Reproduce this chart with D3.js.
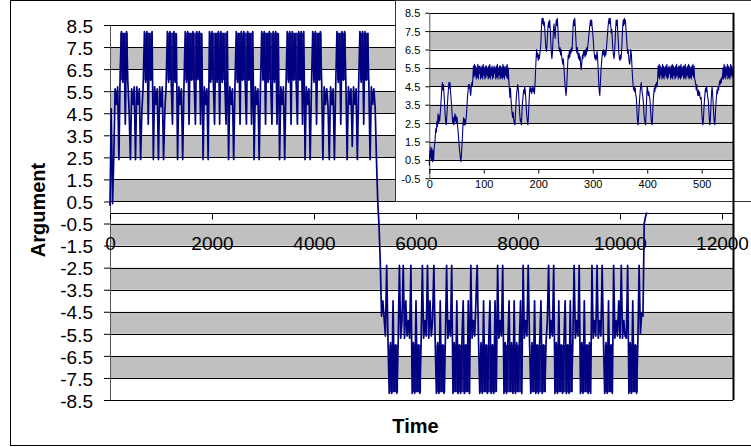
<!DOCTYPE html>
<html>
<head>
<meta charset="utf-8">
<script src="https://cdn.jsdelivr.net/npm/d3@7"></script>
<style>
  html, body { margin: 0; padding: 0; background: #fff; }
  svg { display: block; font-family: "Liberation Sans", Arial, sans-serif; }
</style>
</head>
<body>
<div id="chart"></div>
<script>
// main trace: one reading every 25 time units
const mainStep = 25;
const argPositive = [
  0.3, 4.7, 0.4, 2.6, 5.6, 4.9, 5.7, 2.4,
  6.5, 8.2, 5.9, 8.1, 4.0, 8.2, 5.9,
  4.6, 2.4, 5.6, 4.9, 5.7, 2.4, 5.7, 4.9, 5.6, 2.4, 4.6, 5.7,
  8.2, 5.9, 8.2, 4.0, 8.1, 6.0, 8.2,
  2.4, 5.7, 4.9, 5.6, 2.4, 5.7, 4.8, 5.7, 2.4, 4.6, 5.7,
  8.2, 5.9, 8.2, 6.0, 4.0, 8.2, 5.9, 8.1,
  2.4, 5.7, 4.9, 5.6, 2.4, 5.7,
  8.2, 5.9, 8.2, 4.0, 8.1, 6.0, 8.2, 5.9, 4.0, 8.2, 6.1, 8.2, 4.0, 8.1,
  2.4, 5.7, 4.9, 5.6, 2.4,
  8.2, 5.9, 8.2, 6.0, 4.0, 8.1, 5.9, 8.2, 4.0, 8.2, 5.9, 8.1, 6.0, 4.0, 8.2,
  2.4, 5.7, 4.9, 5.6, 2.4, 5.7,
  8.2, 5.9, 8.1, 4.0, 8.2, 6.0, 8.2, 5.9, 4.0, 8.2, 6.0, 8.1, 4.0, 8.2,
  2.4, 5.7, 4.9, 5.6, 2.4, 5.7,
  8.2, 6.0, 8.2, 4.0, 8.1, 5.9, 8.2, 6.0, 4.0, 8.2, 5.9, 8.2, 4.0, 8.1,
  2.4, 5.7, 4.9, 5.7, 2.4, 5.6,
  8.2, 5.9, 8.2, 4.0, 8.2, 6.0, 8.1, 5.9, 4.0, 8.2, 6.0, 8.2, 4.0, 8.2,
  2.4, 5.7, 4.9, 5.6, 2.4, 5.7,
  8.2, 5.9, 8.2, 4.0, 8.1, 6.0, 8.2, 5.9,
  2.4, 5.7, 4.9, 5.6, 4.8, 2.4, 5.7, 4.9, 5.6, 2.4, 5.7,
  8.2, 5.9, 8.1, 4.0, 8.2, 6.0, 8.2, 5.9,
  2.4, 5.7, 4.9, 5.6, 3.0, 5.7, 4.9, 5.6, 2.4, 5.7,
  8.2, 5.9, 8.2, 4.0, 8.2, 6.0, 8.1, 5.9,
  2.4, 5.7, 4.9, 5.6, 4.7, 2.4, 0.5, -0.6
];
const argNegative = [
  -2.3, -4.7, -4.0, -4.8, -5.6, -2.4, -5.7,
  -8.2, -5.9, -8.2, -4.0, -8.1, -6.0, -8.2, -5.9,
  -2.4, -5.7, -4.9, -2.4, -5.7, -4.0, -5.6, -4.9, -5.7, -2.4,
  -8.2, -5.9, -8.2, -4.0, -8.1, -6.0, -8.2, -5.9,
  -2.4, -5.7, -4.9, -5.6, -2.4, -5.7, -4.0, -5.6, -4.9, -2.4, -5.7,
  -8.2, -5.9, -8.2, -4.0, -8.1, -6.0, -8.2, -5.9,
  -2.4, -5.7, -4.9, -5.6, -2.4,
  -8.2, -5.9, -8.1, -4.0, -8.2, -6.0, -8.2, -5.9, -4.0, -8.2, -6.0, -8.1, -4.0, -8.2,
  -2.4, -5.7, -4.9, -5.6, -4.0, -2.4, -5.7,
  -8.2, -5.9, -8.2, -4.0, -8.1, -6.0, -8.2, -5.9, -4.0, -8.2, -6.0, -8.2, -4.0, -8.1,
  -2.4, -5.7, -4.9, -5.6, -2.4,
  -8.2, -5.9, -8.2, -6.0, -4.0, -8.1, -5.9, -8.2, -4.0, -8.2, -5.9, -8.1, -6.0, -4.0, -8.2,
  -2.4, -5.7, -4.9, -5.6, -2.4, -5.7,
  -8.2, -5.9, -8.1, -4.0, -8.2, -6.0, -8.2, -5.9, -4.0, -8.2, -6.0, -8.1, -5.9,
  -4.9, -2.4, -5.7, -4.9, -5.6, -2.4,
  -8.2, -5.9, -8.2, -4.0, -8.1, -6.0, -8.2, -5.9, -4.0, -8.2, -6.0, -8.2, -4.0, -8.1, -5.9,
  -2.4, -5.7, -4.9, -5.6, -2.4,
  -8.2, -5.9, -8.2, -4.0, -8.1, -6.0, -8.2, -5.9, -8.2,
  -2.4, -5.7, -4.9, -5.6, -2.4, -5.7, -4.9, -5.6, -2.4, -5.7,
  -8.2, -5.9, -8.2, -4.0, -8.1, -6.0, -8.2,
  -2.4, -5.7, -4.9, -5.6, -4.0, -5.7, -2.4, -5.7, -4.9, -5.6, -5.7, -2.4,
  -8.2, -5.9, -8.2, -4.0, -8.1, -6.0, -8.2, -5.9,
  -2.4, -5.5, -4.6, -4.7, -0.5, -0.2, 0.0
];
const mainArg = argPositive.concat(argNegative);

// time spans where the trace oscillates too fast to resolve (dense blocks)
const burstSpansPos = [[200,350],[675,825],[1125,1300],[1475,1800],[1950,2300],[2475,2800],[2975,3300],[3475,3800],[3975,4150],[4450,4625],[4900,5075]];
const burstSpansNeg = [[5475,5650],[5925,6100],[6400,6575],[6725,7050],[7250,7575],[7725,8075],[8250,8550],[8725,9075],[9225,9425],[9700,9850],[10175,10350]];
const burstLevelsPos = [6.0, 8.15];
const burstLevelsNeg = [-8.15, -6.0];

const timeTicks = [0, 2000, 4000, 6000, 8000, 10000, 12000];
const argTicks = [8.5, 7.5, 6.5, 5.5, 4.5, 3.5, 2.5, 1.5, 0.5, -0.5, -1.5, -2.5, -3.5, -4.5, -5.5, -6.5, -7.5, -8.5];

// zoomed view of the first ~560 time units: [time, argument]
const insetSeries = [
  [0,0.2],[1,1.0],[2,0.6],[3,1.2],[4,0.5],[5,1.1],[6,0.4],[7,1.0],[8,0.5],[9,1.2],[10,1.4],[11,1.8],[12,2.2],[13,2.0],[14,2.6],[15,2.3],[16,3.0],[17,2.5],[18,2.9],[19,2.6],
  [20,3.0],[21,3.4],[22,3.9],[23,4.4],[24,4.7],[25,4.3],[26,4.6],[27,4.1],[28,3.6],[29,3.0],[30,2.6],[31,2.4],[32,2.8],[33,3.3],[34,3.9],[35,4.3],[36,4.7],[37,4.4],[38,4.7],[39,4.2],
  [40,3.8],[41,3.4],[42,2.9],[43,2.5],[44,2.8],[45,2.4],[46,2.7],[47,3.0],[48,2.6],[49,2.9],[50,2.5],[51,2.8],[52,2.3],[53,2.0],[54,1.6],[55,1.2],[56,0.9],[57,0.6],[58,0.4],[59,0.8],
  [60,1.3],[61,1.9],[62,2.5],[63,2.8],[64,2.4],[65,2.7],[66,2.4],[67,2.6],[68,2.9],[69,3.3],[70,3.9],[71,4.2],[72,4.6],[73,4.4],[74,4.6],[75,4.2],[76,4.0],[77,4.4],[78,4.7],[79,4.5],[80,5.0],
  [81,5.6],[82,5.0],[83,5.7],[84,5.1],[85,5.6],[86,4.9],[87,5.5],[88,5.0],[89,5.7],[90,4.9],[91,5.6],[92,5.2],[93,5.6],[94,4.9],[95,5.5],[96,5.0],[97,5.6],[98,4.9],[99,5.7],[100,5.1],
  [101,5.5],[102,4.9],[103,5.6],[104,5.0],[105,5.6],[106,5.1],[107,5.5],[108,4.9],[109,5.6],[110,5.0],[111,5.7],[112,4.9],[113,5.5],[114,5.1],[115,5.6],[116,4.9],[117,5.5],[118,5.0],[119,5.6],[120,5.2],
  [121,5.5],[122,4.9],[123,5.6],[124,5.0],[125,5.7],[126,4.9],[127,5.5],[128,5.1],[129,5.6],[130,4.9],[131,5.6],[132,5.0],[133,5.5],[134,4.9],[135,5.7],[136,5.0],[137,5.6],[138,4.9],[139,5.5],[140,5.1],
  [141,5.6],[142,5.0],[143,5.7],[144,4.9],[145,5.5],
  [146,4.8],[147,4.3],[148,3.9],[149,4.4],[150,3.8],[151,3.4],[152,3.0],[153,2.8],[154,3.1],[155,2.7],[156,2.5],[157,2.4],[158,2.9],[159,3.5],[160,4.0],[161,4.3],[162,4.6],[163,4.5],[164,4.1],[165,3.5],
  [166,3.0],[167,2.6],[168,2.7],[169,2.4],[170,3.0],[171,3.6],[172,3.9],[173,4.3],[174,4.1],[175,4.5],[176,4.3],[177,3.9],[178,3.3],[179,2.9],[180,2.6],[181,2.4],[182,2.9],[183,3.6],[184,4.2],[185,4.5],
  [186,4.2],[187,4.4],[188,4.1],[189,4.3],[190,4.5],[191,4.2],[192,4.4],[193,4.1],[194,4.6],[195,5.3],[196,6.0],[197,6.5],[198,6.1],[199,6.3],[200,5.9],[201,6.2],[202,6.0],[203,6.3],[204,6.5],[205,7.0],
  [206,7.8],[207,8.2],[208,7.9],[209,8.2],[210,7.8],[211,8.0],[212,7.6],[213,7.0],[214,6.6],[215,6.4],[216,6.7],[217,7.3],[218,7.8],[219,8.0],[220,7.7],[221,8.1],[222,7.6],[223,6.9],[224,6.3],[225,6.0],
  [226,6.3],[227,7.0],[228,7.6],[229,7.9],[230,7.4],[231,7.1],[232,7.7],[233,8.1],[234,7.8],[235,8.2],[236,7.7],[237,7.0],[238,6.6],[239,6.4],[240,6.6],[241,6.2],[242,6.5],[243,6.1],[244,5.9],[245,5.7],
  [246,6.0],[247,5.6],[248,5.1],[249,4.6],[250,4.3],[251,4.0],[252,4.4],[253,5.0],[254,5.7],[255,6.2],[256,6.0],[257,6.4],[258,6.1],[259,6.5],[260,6.3],[261,6.6],[262,6.4],[263,7.1],[264,7.8],[265,8.1],
  [266,7.8],[267,8.2],[268,7.7],[269,7.1],[270,6.5],[271,6.3],[272,6.6],[273,6.2],[274,6.0],[275,6.3],[276,5.9],[277,6.1],[278,5.6],[279,5.4],[280,5.8],[281,6.2],[282,6.0],[283,6.4],[284,6.2],[285,6.4],
  [286,6.1],[287,6.5],[288,6.2],[289,6.6],[290,6.4],[291,6.7],[292,7.0],[293,7.3],[294,7.6],[295,7.9],[296,8.1],[297,7.8],[298,8.1],[299,7.7],[300,7.4],[301,7.0],[302,6.5],[303,6.2],[304,6.0],[305,6.2],
  [306,5.9],[307,6.1],[308,6.4],[309,6.0],[310,5.4],[311,4.7],[312,4.2],[313,4.0],[314,4.6],[315,5.3],[316,5.7],[317,6.1],[318,6.4],[319,6.2],[320,6.5],[321,6.3],[322,6.1],[323,6.4],[324,6.2],[325,6.5],
  [326,6.9],[327,7.3],[328,7.7],[329,8.0],[330,8.2],[331,7.9],[332,8.2],[333,7.8],[334,7.4],[335,7.6],[336,7.0],[337,6.5],[338,6.2],[339,6.0],[340,6.3],[341,6.9],[342,7.6],[343,8.1],[344,7.8],[345,8.1],
  [346,7.4],[347,6.9],[348,6.3],[349,6.0],[350,5.9],[351,6.2],[352,6.0],[353,6.4],[354,7.1],[355,7.8],[356,8.1],[357,7.8],[358,8.2],[359,7.9],[360,8.1],[361,7.6],[362,7.2],[363,6.7],[364,6.3],[365,6.5],
  [366,6.1],[367,5.8],[368,5.7],[369,6.1],[370,6.5],[371,6.2],[372,5.6],[373,5.0],[374,4.6],
  [375,4.3],[376,4.5],[377,4.2],[378,4.4],[379,4.0],[380,3.9],[381,3.2],[382,2.7],[383,2.4],[384,2.8],[385,3.3],[386,3.8],[387,4.2],[388,4.5],[389,4.7],[390,4.4],[391,4.1],[392,3.9],[393,3.6],[394,3.0],
  [395,2.7],[396,2.5],[397,2.4],[398,3.1],[399,3.9],[400,4.5],[401,4.3],[402,4.0],[403,4.2],[404,3.9],[405,3.8],[406,3.3],[407,2.8],[408,2.5],[409,2.4],[410,3.0],[411,3.7],[412,4.1],[413,4.4],[414,4.2],
  [415,4.6],[416,4.4],[417,4.7],[418,4.5],[419,4.8],
  [420,5.6],[421,5.0],[422,5.7],[423,4.9],[424,5.6],[425,5.1],[426,5.5],[427,4.9],[428,5.7],[429,5.0],[430,5.6],[431,4.9],[432,5.5],[433,5.1],[434,5.6],[435,5.0],[436,5.7],[437,4.9],[438,5.5],[439,5.0],
  [440,5.6],[441,5.2],[442,5.5],[443,4.9],[444,5.6],[445,5.0],[446,5.7],[447,4.9],[448,5.6],[449,5.1],[450,5.5],[451,4.9],[452,5.6],[453,5.0],[454,5.7],[455,5.1],[456,5.5],[457,4.9],[458,5.6],[459,5.0],
  [460,5.6],[461,4.9],[462,5.7],[463,5.0],[464,5.5],[465,5.1],[466,5.6],[467,4.9],[468,5.6],[469,5.0],[470,5.7],[471,4.9],[472,5.5],[473,5.1],[474,5.6],[475,5.0],[476,5.7],[477,4.9],[478,5.6],[479,5.0],
  [480,5.5],[481,4.9],[482,5.6],[483,5.1],[484,5.7],[485,5.0],[486,5.6],[487,4.9],
  [488,4.8],[489,4.6],[490,4.3],[491,4.6],[492,4.2],[493,4.0],[494,4.3],[495,4.0],[496,4.2],[497,3.9],[498,3.8],[499,3.9],[500,3.2],[501,2.7],[502,2.4],[503,2.6],[504,3.2],[505,3.7],[506,4.1],[507,4.4],
  [508,4.2],[509,4.5],[510,4.2],[511,3.9],[512,3.8],[513,3.2],[514,2.7],[515,2.4],[516,2.8],[517,3.5],[518,4.1],[519,4.5],[520,4.1],[521,3.6],[522,3.0],[523,2.6],[524,2.4],[525,2.9],[526,3.5],[527,3.9],
  [528,4.3],[529,4.1],[530,4.5],[531,4.3],[532,4.6],[533,4.8],[534,4.6],[535,4.9],[536,4.7],[537,5.0],[538,4.9],
  [539,5.5],[540,4.9],[541,5.7],[542,5.0],[543,5.6],[544,4.9],[545,5.5],[546,5.1],[547,5.7],[548,4.9],[549,5.6],[550,5.0],[551,5.5],[552,4.9],[553,5.7],[554,5.1],[555,5.6],[556,5.0],[557,5.5],[558,5.2]
];
const insetTimeTicks = [0, 100, 200, 300, 400, 500];
const insetArgTicks = [8.5, 7.5, 6.5, 5.5, 4.5, 3.5, 2.5, 1.5, 0.5, -0.5];

const width = 751, height = 447;
const navy = "#000080", band = "#c0c0c0";
const fmt = d => d.toFixed(1);
const crisp = v => Math.round(v) + 0.5;

const svg = d3.select("#chart").append("svg")
    .attr("width", width)
    .attr("height", height);

// chart area border (right edge is cut off in the picture)
svg.append("rect")
    .attr("x", 10.5).attr("y", 0.5)
    .attr("width", 760).attr("height", 445)
    .attr("fill", "#fff").attr("stroke", "#000");

// ---- main plot ----
const x = d3.scaleLinear().domain([0, 12000]).range([110, 722]);
const y = d3.scaleLinear().domain([-8.5, 8.5]).range([400, 25]);
const plotLeft = 110, plotRight = 733;

function drawBands(g, ticks, ys, x0, x1) {
    for (let k = 0; k < ticks.length - 1; k++) {
        const lower = ticks[k + 1];
        const idx = Math.round(lower - ticks[ticks.length - 1]);
        if (idx % 2 === 1) {
            g.append("rect")
                .attr("x", x0).attr("y", ys(ticks[k]))
                .attr("width", x1 - x0).attr("height", ys(lower) - ys(ticks[k]))
                .attr("fill", band);
        }
    }
    g.selectAll(null).data(ticks).enter().append("line")
        .attr("x1", x0).attr("x2", x1)
        .attr("y1", d => crisp(ys(d))).attr("y2", d => crisp(ys(d)))
        .attr("stroke", "#000").attr("stroke-width", 1);
}

const main = svg.append("g");
drawBands(main, argTicks, y, plotLeft, plotRight);

const yAxis = main.append("g")
    .attr("transform", `translate(${plotLeft},0)`)
    .call(d3.axisLeft(y).tickValues(argTicks).tickFormat(fmt).tickSize(6).tickSizeOuter(0).tickPadding(11));
yAxis.select(".domain").attr("stroke", "#555");
yAxis.selectAll(".tick line").attr("stroke", "#000");
yAxis.selectAll("text")
    .attr("font-size", 19).attr("fill", "#000")
    .attr("font-family", "'Liberation Sans', Arial, sans-serif")
    .attr("dy", "0.38em");

main.append("line")
    .attr("x1", plotLeft).attr("x2", plotRight)
    .attr("y1", crisp(y(0))).attr("y2", crisp(y(0)))
    .attr("stroke", "#000");
const xAxis = main.append("g")
    .attr("transform", `translate(0,${crisp(y(0))})`)
    .call(d3.axisBottom(x).tickValues(timeTicks).tickFormat(d3.format("d")).tickSize(6).tickSizeOuter(0).tickPadding(17));
xAxis.select(".domain").remove();
xAxis.selectAll(".tick line").attr("stroke", "#000");
xAxis.selectAll("text")
    .attr("font-size", 19).attr("fill", "#000")
    .attr("font-family", "'Liberation Sans', Arial, sans-serif");

// dense oscillation blocks
const spans = burstSpansPos.map(s => ({ t0: s[0], t1: s[1], lo: burstLevelsPos[0], hi: burstLevelsPos[1] }))
    .concat(burstSpansNeg.map(s => ({ t0: s[0], t1: s[1], lo: burstLevelsNeg[0], hi: burstLevelsNeg[1] })));
main.selectAll("rect.burst")
    .data(spans)
    .enter().append("rect")
    .attr("class", "burst")
    .attr("x", d => x(d.t0))
    .attr("width", d => x(d.t1) - x(d.t0))
    .attr("y", d => y(d.hi))
    .attr("height", d => y(d.lo) - y(d.hi))
    .attr("fill", navy)
    .attr("fill-opacity", 0.85);

const mainLine = d3.line()
    .x((d, i) => x(i * mainStep))
    .y(d => y(d));
main.append("path")
    .datum(mainArg)
    .attr("d", mainLine)
    .attr("fill", "none")
    .attr("stroke", navy)
    .attr("stroke-width", 1.7)
    .attr("stroke-linejoin", "round");

// ---- inset ----
const ix = d3.scaleLinear().domain([0, 500]).range([429.3, 701.7]);
const iy = d3.scaleLinear().domain([-0.5, 8.5]).range([178.3, 12.7]);
const insetLeft = 429.3, insetRight = 733.3;

const inset = svg.append("g");
inset.append("rect")
    .attr("x", 395.5).attr("y", 0.5)
    .attr("width", 400).attr("height", 201)
    .attr("fill", "#fff").attr("stroke", "#333");
drawBands(inset, insetArgTicks, iy, insetLeft, insetRight);

const iyAxis = inset.append("g")
    .attr("transform", `translate(${insetLeft},0)`)
    .call(d3.axisLeft(iy).tickValues(insetArgTicks).tickFormat(fmt).tickSize(4).tickSizeOuter(0).tickPadding(5));
iyAxis.select(".domain").attr("stroke", "#555");
iyAxis.selectAll(".tick line").attr("stroke", "#000");
iyAxis.selectAll("text")
    .attr("font-size", 11).attr("fill", "#000")
    .attr("font-family", "'Liberation Sans', Arial, sans-serif")
    .attr("dy", "0.36em");

inset.append("line")
    .attr("x1", insetLeft).attr("x2", insetRight)
    .attr("y1", crisp(iy(0))).attr("y2", crisp(iy(0)))
    .attr("stroke", "#000");
const ixAxis = inset.append("g")
    .attr("transform", `translate(0,${crisp(iy(0))})`)
    .call(d3.axisBottom(ix).tickValues(insetTimeTicks).tickFormat(d3.format("d")).tickSize(4).tickSizeOuter(0).tickPadding(7));
ixAxis.select(".domain").remove();
ixAxis.selectAll(".tick line").attr("stroke", "#000");
ixAxis.selectAll("text")
    .attr("font-size", 11).attr("fill", "#000")
    .attr("font-family", "'Liberation Sans', Arial, sans-serif");

inset.append("path")
    .datum(insetSeries)
    .attr("d", d3.line().x(d => ix(d[0])).y(d => iy(d[1])))
    .attr("fill", "none")
    .attr("stroke", navy)
    .attr("stroke-width", 1.1)
    .attr("stroke-linejoin", "round");

// heavy right edge shared by both plots
svg.append("line")
    .attr("x1", 733.5).attr("x2", 733.5)
    .attr("y1", iy(8.5)).attr("y2", y(-8.5))
    .attr("stroke", "#000").attr("stroke-width", 2);

// axis titles
svg.append("text")
    .attr("x", 415.5).attr("y", 433)
    .attr("text-anchor", "middle")
    .attr("font-size", 20).attr("font-weight", "bold")
    .text("Time");
svg.append("text")
    .attr("transform", "translate(45,210) rotate(-90)")
    .attr("text-anchor", "middle")
    .attr("font-size", 20).attr("font-weight", "bold")
    .text("Argument");
</script>
</body>
</html>
